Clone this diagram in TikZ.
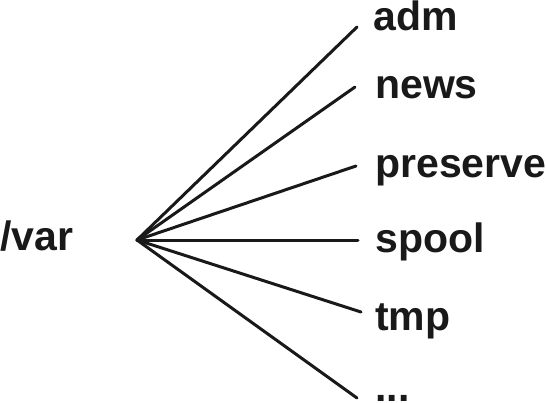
\documentclass[tikz,border=0pt]{standalone}
\usepackage{fontspec}
\setmainfont{Liberation Sans}
\begin{document}
\begin{tikzpicture}[
    x=1pt, y=-1pt,
    line cap=round,
    line join=round,
    edge/.style={draw=black!90, line width=3pt},
    dir/.style={anchor=base west, inner sep=0pt, font=\fontsize{41}{41}\selectfont\bfseries, text=black!90}
]
\useasboundingbox (0,0) rectangle (546,402);

\node[dir] (var) at (0,250) {/var};
\coordinate (hub) at (137,240);

\node[dir] (adm)      at (373,30)  {adm};
\node[dir] (news)     at (375,98)  {news};
\node[dir] (preserve) at (375,177) {preserve};
\node[dir] (spool)    at (375,252) {spool};
\node[dir] (tmp)      at (375,330) {tmp};
\node[dir] (more)     at (375,401) {...};

\coordinate (adm-e)      at (357,27);
\coordinate (news-e)     at (355,87);
\coordinate (preserve-e) at (356,166);
\coordinate (spool-e)    at (358,240);
\coordinate (tmp-e)      at (361,312);
\coordinate (more-e)     at (357,398);

\foreach \d in {adm,news,preserve,spool,tmp,more}
  \draw[edge] (hub) -- (\d-e);
\end{tikzpicture}
\end{document}
